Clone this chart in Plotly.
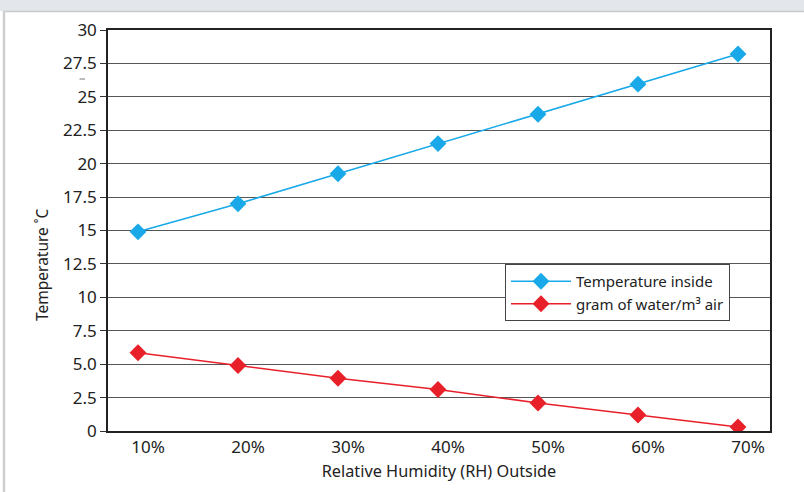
import plotly.graph_objects as go

categories = ["10%", "20%", "30%", "40%", "50%", "60%", "70%"]
temp_inside = [14.9, 17.0, 19.25, 21.5, 23.7, 25.95, 28.2]
water_gram = [5.85, 4.9, 3.95, 3.1, 2.1, 1.2, 0.3]
y_tickvals = [0, 2.5, 5, 7.5, 10, 12.5, 15, 17.5, 20, 22.5, 25, 27.5, 30]
y_ticktext = ["0", "2.5", "5.0", "7.5", "10", "12.5", "15", "17.5", "20", "22.5", "25", "27.5", "30"]

FONT = "Noto Sans, Open Sans, sans-serif"

fig = go.Figure()
fig.add_trace(go.Scatter(
    x=categories, y=temp_inside, mode="lines+markers", name="Temperature inside",
    line=dict(color="#19a9e8", width=1.6),
    marker=dict(symbol="diamond", size=13, color="#19a9e8"),
))
fig.add_trace(go.Scatter(
    x=categories, y=water_gram, mode="lines+markers", name="gram of water/m³ air",
    line=dict(color="#e8202a", width=1.6),
    marker=dict(symbol="diamond", size=13, color="#e8202a"),
))

L, R, T, B = 108, 34, 30, 61
W, H = 804, 492
pw, ph = W - L - R, H - T - B

def px(x):
    return (x - L) / pw

def py(y):
    return (H - B - y) / ph

shapes = [
    dict(type="rect", xref="paper", yref="paper", x0=px(0), x1=px(W), y0=py(11), y1=py(0),
         fillcolor="#e3e6ea", line=dict(width=0), layer="below"),
    dict(type="line", xref="paper", yref="paper", x0=px(3), x1=px(W), y0=py(11.5), y1=py(11.5),
         line=dict(color="#c9c9c9", width=1.5)),
    dict(type="line", xref="paper", yref="paper", x0=px(4), x1=px(4), y0=py(11.5), y1=py(H),
         line=dict(color="#cfcfcf", width=2.5)),
    dict(type="line", xref="paper", yref="paper", x0=px(79.5), x1=px(85), y0=py(79), y1=py(79),
         line=dict(color="#777", width=1)),
]

fig.update_layout(
    width=W, height=H,
    margin=dict(l=L, r=R, t=T, b=B),
    paper_bgcolor="white", plot_bgcolor="white",
    font=dict(family=FONT, size=16, color="#222"),
    shapes=shapes,
    showlegend=True,
    legend=dict(x=px(505), y=py(264), xanchor="left", yanchor="top",
                bgcolor="white", bordercolor="#444", borderwidth=1,
                font=dict(family=FONT, size=15, color="#222"),
                itemwidth=60, tracegroupgap=3),
    xaxis=dict(
        type="category", range=[-0.3, 6.32],
        showgrid=False, showline=True, linecolor="#222", linewidth=1.5, mirror=True,
        ticks="", ticklabelshift=10, ticklabelstandoff=0,
        tickfont=dict(family=FONT, size=17, color="#222"),
        title=dict(text="Relative Humidity (RH) Outside", font=dict(family=FONT, size=16.3, color="#222"), standoff=8),
    ),
    yaxis=dict(
        range=[0, 30], tickvals=y_tickvals, ticktext=y_ticktext,
        showgrid=True, gridcolor="#555", gridwidth=1,
        showline=True, linecolor="#222", linewidth=1.5, mirror=True,
        ticks="outside", ticklen=6, tickcolor="#333", tickwidth=1,
        tickfont=dict(family=FONT, size=17, color="#222"),
        zeroline=False,
    ),
    annotations=[
        dict(text="Temperature ˚C", xref="paper", yref="paper", x=px(42), y=py(265),
             textangle=-90, showarrow=False, xanchor="center", yanchor="middle",
             font=dict(family=FONT, size=15.5, color="#222")),
    ],
)

fig.write_html("out.html", config={"displayModeBar": False},
               post_script="document.body.style.margin='0';")
